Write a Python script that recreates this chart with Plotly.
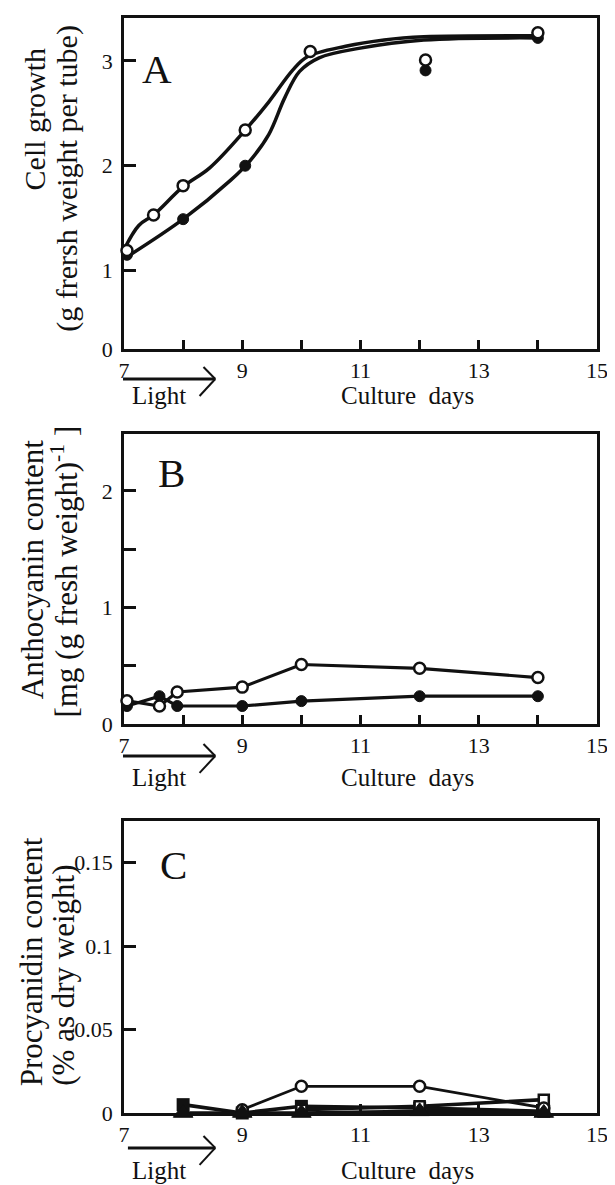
import plotly.graph_objects as go
from plotly.subplots import make_subplots

# ---------------- data ----------------
x_tick_vals = [7, 8, 9, 10, 11, 12, 13, 14, 15]
x_tick_text = ["7", "", "9", "", "11", "", "13", "", "15"]

# Panel A: cell growth
a_open_days = [7.05, 7.5, 8.0, 9.05, 10.15, 12.1, 14.0]
a_open_vals = [1.19, 1.53, 1.81, 2.34, 3.09, 3.01, 3.27]
a_fill_days = [7.05, 8.0, 9.05, 12.1, 14.0]
a_fill_vals = [1.15, 1.49, 2.0, 2.91, 3.22]
a_open_curve_days = [7.0, 7.25, 7.5, 8.0, 8.45, 9.05, 9.45, 9.85, 10.1, 10.75, 11.4, 12.07, 14.0]
a_open_curve_vals = [1.2, 1.43, 1.53, 1.80, 1.98, 2.34, 2.61, 2.91, 3.04, 3.14, 3.2, 3.23, 3.24]
a_fill_curve_days = [7.05, 8.0, 8.8, 9.12, 9.45, 9.72, 9.97, 10.3, 10.97, 12.07, 14.0]
a_fill_curve_vals = [1.13, 1.49, 1.86, 2.04, 2.30, 2.65, 2.90, 3.03, 3.12, 3.2, 3.22]
a_tick_vals = [0.25, 1, 2, 3]
a_tick_text = ["0", "1", "2", "3"]

# Panel B: anthocyanin content
b_days = [7.05, 7.6, 7.9, 9.0, 10.0, 12.0, 14.0]
b_open_vals = [0.20, 0.155, 0.275, 0.317, 0.511, 0.478, 0.399]
b_fill_vals = [0.155, 0.239, 0.155, 0.155, 0.197, 0.239, 0.239]
b_tick_vals = [0, 0.5, 1, 1.5, 2]
b_tick_text = ["0", "", "1", "", "2"]

# Panel C: procyanidin content
c_open_circ_days = [9.0, 10.0, 12.0, 14.1]
c_open_circ_vals = [0.002, 0.016, 0.016, 0.003]
c_fill_sq_days = [8.0, 9.0, 10.0, 12.0, 14.1]
c_fill_sq_vals = [0.005, 0.0, 0.004, 0.003, 0.001]
c_open_sq_days = [10.0, 12.0, 14.1]
c_open_sq_vals = [0.002, 0.004, 0.008]
c_tri_days = [8.0, 9.0, 10.0, 12.0, 14.1]
c_tri_vals = [0.0, 0.0, 0.0, 0.001, 0.0]
c_tick_vals = [0, 0.05, 0.1, 0.15]
c_tick_text = ["0", "0.05", "0.1", "0.15"]

# ---------------- layout helpers ----------------
# The page body has an 8px default margin, so the figure is made 8px smaller
# and all positions below are given in page pixels.
PAGE_W, PAGE_H, BODY = 615, 1185, 8
W, H = PAGE_W - BODY, PAGE_H - BODY
PLOT_L, PLOT_R, PLOT_T, PLOT_B = 124, 606, 15, 1113  # page pixels
ML, MR = PLOT_L - BODY, PAGE_W - PLOT_R
MT, MB = PLOT_T - BODY, PAGE_H - PLOT_B
PW = PLOT_R - PLOT_L
PH = PLOT_B - PLOT_T


def xp(px):
    return (px - PLOT_L) / PW


def yp(py):
    return (PLOT_B - py) / PH


FONT = "Liberation Serif"
BLACK = "#111111"

fig = make_subplots(rows=3, cols=1)

line_w = 3.2
open_marker = dict(symbol="circle", size=11, color="white", line=dict(color=BLACK, width=2.5))
fill_marker = dict(symbol="circle", size=11, color=BLACK, line=dict(color=BLACK, width=1))

# Panel A
fig.add_trace(go.Scatter(x=a_open_curve_days, y=a_open_curve_vals, mode="lines",
                         line=dict(color=BLACK, width=3.5, shape="spline", smoothing=1.0),
                         showlegend=False), row=1, col=1)
fig.add_trace(go.Scatter(x=a_fill_curve_days, y=a_fill_curve_vals, mode="lines",
                         line=dict(color=BLACK, width=3.5, shape="spline", smoothing=1.0),
                         showlegend=False), row=1, col=1)
fig.add_trace(go.Scatter(x=a_fill_days, y=a_fill_vals, mode="markers", marker=fill_marker,
                         showlegend=False, cliponaxis=False), row=1, col=1)
fig.add_trace(go.Scatter(x=a_open_days, y=a_open_vals, mode="markers", marker=open_marker,
                         showlegend=False, cliponaxis=False), row=1, col=1)

# Panel B
fig.add_trace(go.Scatter(x=b_days, y=b_fill_vals, mode="lines+markers", marker=fill_marker,
                         line=dict(color=BLACK, width=line_w), showlegend=False,
                         cliponaxis=False), row=2, col=1)
fig.add_trace(go.Scatter(x=b_days, y=b_open_vals, mode="lines+markers", marker=open_marker,
                         line=dict(color=BLACK, width=line_w), showlegend=False,
                         cliponaxis=False), row=2, col=1)

# Panel C
fig.add_trace(go.Scatter(x=c_fill_sq_days, y=c_fill_sq_vals, mode="lines+markers",
                         marker=dict(symbol="square", size=13, color=BLACK),
                         line=dict(color=BLACK, width=3.6), showlegend=False,
                         cliponaxis=False), row=3, col=1)
fig.add_trace(go.Scatter(x=c_open_sq_days, y=c_open_sq_vals, mode="lines+markers",
                         marker=dict(symbol="square", size=10, color="white",
                                     line=dict(color=BLACK, width=2.5)),
                         line=dict(color=BLACK, width=3.6), showlegend=False,
                         cliponaxis=False), row=3, col=1)
fig.add_trace(go.Scatter(x=c_open_circ_days, y=c_open_circ_vals, mode="lines+markers",
                         marker=open_marker, line=dict(color=BLACK, width=2.8),
                         showlegend=False, cliponaxis=False), row=3, col=1)
fig.add_trace(go.Scatter(x=c_tri_days, y=c_tri_vals, mode="lines+markers",
                         marker=dict(symbol="triangle-up", size=17, color=BLACK,
                                     line=dict(color=BLACK, width=1)),
                         line=dict(color=BLACK, width=3.6), showlegend=False,
                         cliponaxis=False), row=3, col=1)

# panel pixel extents (top, bottom) in page pixels
panels = [(15, 347), (432, 723), (820, 1113)]
yranges = [[0.25, 3.41], [0, 2.49], [0, 0.175]]
ytv = [(a_tick_vals, a_tick_text), (b_tick_vals, b_tick_text), (c_tick_vals, c_tick_text)]

tick_font = dict(family=FONT, size=22, color=BLACK)
for i, ((top, bot), yr, (tv, tt)) in enumerate(zip(panels, yranges, ytv), start=1):
    xname = "xaxis" if i == 1 else f"xaxis{i}"
    yname = "yaxis" if i == 1 else f"yaxis{i}"
    fig.layout[xname].update(
        domain=[0, 1], range=[7, 15], tickvals=x_tick_vals, ticktext=x_tick_text,
        ticks="inside", ticklen=9, tickwidth=2.5, tickcolor=BLACK,
        showline=True, linewidth=2.8, linecolor=BLACK, mirror=True,
        showgrid=False, zeroline=False, tickfont=tick_font, ticklabelstandoff=0,
        ticklabeloverflow="allow", layer="below traces",
    )
    fig.layout[yname].update(
        domain=[yp(bot), yp(top)], range=yr, tickvals=tv, ticktext=tt,
        ticks="inside", ticklen=12, tickwidth=2.5, tickcolor=BLACK,
        showline=True, linewidth=2.8, linecolor=BLACK, mirror=True,
        showgrid=False, zeroline=False, tickfont=tick_font, ticklabelstandoff=4,
        layer="below traces",
    )

ann = []


def ytitle(text, cx, y, anchor, size):
    ann.append(dict(text=text, x=xp(cx), y=yp(y), xanchor="center", yanchor=anchor,
                    textangle=-90, font=dict(family=FONT, size=size, color=BLACK)))


# y titles
ytitle("Cell growth", 33, 116, "middle", 30)
ytitle("(g frersh weight per tube)", 65, 176, "middle", 30)
ytitle("Anthocyanin content", 31, 568, "middle", 31)
ytitle("[mg (g fresh weight)<sup>-1</sup> ]", 63, 570, "middle", 31)
ytitle("Procyanidin content", 30, 1088, "bottom", 31)
ytitle("(% as dry weight)", 62, 1088, "bottom", 31)

# panel letters
letter_font = dict(family=FONT, size=41, color=BLACK)
for letter, cx, cy in [("A", 158, 66), ("B", 172, 471), ("C", 174, 864)]:
    ann.append(dict(text=letter, x=xp(cx), y=yp(cy), xanchor="center", yanchor="middle",
                    font=letter_font))

# bottom labels and light arrows (page pixels)
label_font = dict(family=FONT, size=25, color=BLACK)
shapes = []
for arrow_y, label_y, x0 in [(377, 394, 123), (755, 777, 123), (1148, 1171, 128)]:
    ann.append(dict(text="Light", x=xp(160), y=yp(label_y), xanchor="center",
                    yanchor="middle", font=label_font))
    ann.append(dict(text="Culture\u00a0 days", x=xp(413), y=yp(label_y), xanchor="center",
                    yanchor="middle", font=label_font))
    tip = 217
    shapes.append(dict(type="line", xref="paper", yref="paper", x0=xp(x0), x1=xp(tip),
                       y0=yp(arrow_y), y1=yp(arrow_y), line=dict(color=BLACK, width=3)))
    shapes.append(dict(type="line", xref="paper", yref="paper", x0=xp(tip - 12), x1=xp(tip),
                       y0=yp(arrow_y - 12), y1=yp(arrow_y), line=dict(color=BLACK, width=2)))
    shapes.append(dict(type="line", xref="paper", yref="paper", x0=xp(tip), x1=xp(tip - 16),
                       y0=yp(arrow_y), y1=yp(arrow_y + 17), line=dict(color=BLACK, width=2)))

for a in ann:
    a.update(xref="paper", yref="paper", showarrow=False)

fig.update_layout(
    width=W, height=H, margin=dict(l=ML, r=MR, t=MT, b=MB),
    paper_bgcolor="white", plot_bgcolor="white",
    font=dict(family=FONT, color=BLACK),
    annotations=ann, shapes=shapes, showlegend=False,
)

fig.write_html("out.html")
